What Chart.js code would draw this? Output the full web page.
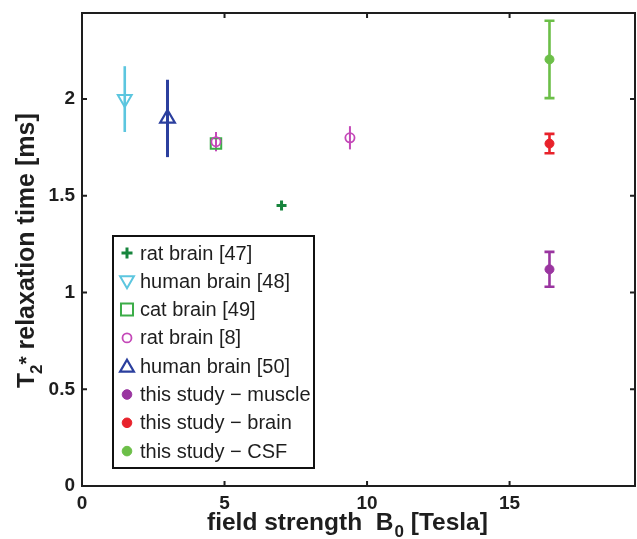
<!DOCTYPE html>
<html>
<head>
<meta charset="utf-8">
<script src="https://cdn.jsdelivr.net/npm/chart.js@4.4.1/dist/chart.umd.min.js"></script>
<style>
html,body{margin:0;padding:0;background:#fff;}
#wrap{width:637px;height:539px;position:relative;}
</style>
</head>
<body>
<div id="wrap"><canvas id="c" width="637" height="539"></canvas></div>
<script>
// ---- data ----
const seriesLabels = ['rat brain [47]','human brain [48]','cat brain [49]','rat brain [8]','human brain [50]','this study \u2212 muscle','this study \u2212 brain','this study \u2212 CSF'];
const b_rat47 = [7.0],   t_rat47 = [1.45],  e_rat47 = [0];
const b_human48 = [1.5], t_human48 = [2.0], e_human48 = [0.17];
const b_cat49 = [4.7],   t_cat49 = [1.77],  e_cat49 = [0];
const b_rat8 = [4.7, 9.4], t_rat8 = [1.78, 1.80], e_rat8 = [0.05, 0.06];
const b_human50 = [3.0], t_human50 = [1.9], e_human50 = [0.2];
const b_muscle = [16.4], t_muscle = [1.12], e_muscle = [0.09];
const b_brain = [16.4],  t_brain = [1.77],  e_brain = [0.05];
const b_csf = [16.4],    t_csf = [2.205],   e_csf = [0.2];
const xTickValues = [0, 5, 10, 15];
const yTickValues = [0, 0.5, 1, 1.5, 2];
const xRange = [0, 19.4];
const yRange = [0, 2.445];

const FONT = "'Liberation Sans', Arial, Helvetica, sans-serif";
Chart.defaults.font.family = FONT;

function pts(bs, ts){ return bs.map((b,i)=>({x:b, y:ts[i]})); }

const styles = [
  {style:'cross',    color:'#17853d', r:5,   bw:3,   fill:false, errW:2,   cap:0, legR:5.5},
  {style:'triangle', color:'#5cc6df', r:8,   bw:2,   fill:false, errW:2.6, cap:0, rot:180, legR:8},
  {style:'rect',     color:'#3cad48', r:7.4, bw:2,   fill:false, errW:2,   cap:0, legR:8.5},
  {style:'circle',   color:'#c448b8', r:4.6, bw:1.8, fill:false, errW:2,   cap:0, legR:4.5},
  {style:'triangle', color:'#2b3f9e', r:8.5, bw:2.2, fill:false, errW:3,   cap:0, legR:8},
  {style:'circle',   color:'#9a35a0', r:4.5, bw:1,   fill:true,  errW:2.6, cap:5, legR:4.8},
  {style:'circle',   color:'#e8222b', r:4.5, bw:1,   fill:true,  errW:2.6, cap:5, legR:4.8},
  {style:'circle',   color:'#6cbf48', r:4.5, bw:1,   fill:true,  errW:2.6, cap:5, legR:4.8}
];
const dataSets = [
  [b_rat47, t_rat47, e_rat47],
  [b_human48, t_human48, e_human48],
  [b_cat49, t_cat49, e_cat49],
  [b_rat8, t_rat8, e_rat8],
  [b_human50, t_human50, e_human50],
  [b_muscle, t_muscle, e_muscle],
  [b_brain, t_brain, e_brain],
  [b_csf, t_csf, e_csf]
];

const datasets = dataSets.map((d,i)=>{
  const s = styles[i];
  return {
    label: seriesLabels[i],
    data: pts(d[0], d[1]),
    errs: d[2],
    errW: s.errW,
    cap: s.cap,
    showLine: false,
    pointStyle: s.style,
    pointRadius: s.r,
    pointHoverRadius: s.r,
    pointBorderWidth: s.bw,
    pointRotation: s.rot || 0,
    borderColor: s.color,
    backgroundColor: s.fill ? s.color : 'rgba(0,0,0,0)',
    order: -i
  };
});

const frame = {
  id: 'frame',
  beforeDatasetsDraw(chart){
    const ctx = chart.ctx, xs = chart.scales.x, ys = chart.scales.y;
    chart.data.datasets.forEach(ds=>{
      ctx.save();
      ctx.strokeStyle = ds.borderColor;
      ctx.lineWidth = ds.errW;
      ds.data.forEach((p,i)=>{
        const e = ds.errs[i];
        if(!e) return;
        const px = xs.getPixelForValue(p.x);
        const y1 = ys.getPixelForValue(p.y + e);
        const y2 = ys.getPixelForValue(p.y - e);
        ctx.beginPath();
        ctx.moveTo(px, y1); ctx.lineTo(px, y2);
        if(ds.cap){
          ctx.moveTo(px-ds.cap, y1); ctx.lineTo(px+ds.cap, y1);
          ctx.moveTo(px-ds.cap, y2); ctx.lineTo(px+ds.cap, y2);
        }
        ctx.stroke();
      });
      ctx.restore();
    });
  },
  afterDraw(chart){
    const ctx = chart.ctx, xs = chart.scales.x, ys = chart.scales.y;
    const a = chart.chartArea;
    // box
    ctx.save();
    ctx.strokeStyle = '#1e1e1e';
    ctx.lineWidth = 2;
    ctx.strokeRect(a.left, a.top, a.right - a.left, a.bottom - a.top);
    // inward ticks
    const tl = 5;
    ctx.beginPath();
    xTickValues.forEach(v=>{
      const px = xs.getPixelForValue(v);
      ctx.moveTo(px, a.bottom); ctx.lineTo(px, a.bottom - tl);
      ctx.moveTo(px, a.top); ctx.lineTo(px, a.top + tl);
    });
    yTickValues.forEach(v=>{
      const py = ys.getPixelForValue(v);
      ctx.moveTo(a.left, py); ctx.lineTo(a.left + tl, py);
      ctx.moveTo(a.right, py); ctx.lineTo(a.right - tl, py);
    });
    ctx.stroke();
    ctx.restore();

    // axis titles
    ctx.save();
    ctx.fillStyle = '#1e1e1e';
    ctx.textBaseline = 'alphabetic';
    ctx.textAlign = 'left';
    let x = 207, yb = 530;
    const big = 'bold 24.5px ' + FONT, small = 'bold 17px ' + FONT;
    ctx.font = big; ctx.fillText('field strength  B', x, yb); x += ctx.measureText('field strength  B').width;
    ctx.font = small; ctx.fillText('0', x + 1, yb + 7); x += ctx.measureText('0').width + 1;
    ctx.font = big; ctx.fillText(' [Tesla]', x, yb);
    ctx.translate(34, 388);
    ctx.rotate(-Math.PI/2);
    let u = 0;
    ctx.font = big; ctx.fillText('T', u, 0); u += ctx.measureText('T').width - 1;
    ctx.font = small; ctx.fillText('2', u, 8); u += ctx.measureText('2').width;
    ctx.font = 'bold 21px ' + FONT; ctx.fillText('*', u, -1); u += ctx.measureText('*').width;
    ctx.font = 'bold 25px ' + FONT; ctx.fillText(' relaxation time [ms]', u, 0);
    ctx.restore();

    // legend box
    const L = 113, T = 236, R = 314, B = 468;
    ctx.save();
    ctx.fillStyle = '#ffffff';
    ctx.fillRect(L, T, R - L, B - T);
    ctx.strokeStyle = '#111';
    ctx.lineWidth = 2;
    ctx.strokeRect(L, T, R - L, B - T);
    chart.data.datasets.forEach((ds,i)=>{
      const s = styles[i];
      const cy = 253 + i * 28.3;
      ctx.save();
      ctx.strokeStyle = s.color;
      ctx.fillStyle = s.fill ? s.color : 'rgba(0,0,0,0)';
      ctx.lineWidth = s.bw;
      Chart.helpers.drawPoint(ctx, {
        pointStyle: s.style, radius: s.legR, rotation: s.rot || 0,
        borderWidth: s.bw
      }, 127, cy + (s.style === 'triangle' ? (s.rot ? -1 : 1.5) : 0));
      ctx.restore();
      ctx.font = '20px ' + FONT;
      ctx.textBaseline = 'middle';
      ctx.textAlign = 'left';
      ctx.fillStyle = '#1e1e1e';
      ctx.fillText(ds.label, 140, cy + 1);
    });
    ctx.restore();
  }
};

function zeroPad(scale){
  scale.paddingLeft = 0; scale.paddingRight = 0; scale.paddingTop = 0; scale.paddingBottom = 0;
}

new Chart(document.getElementById('c'), {
  type: 'scatter',
  data: { datasets },
  options: {
    responsive: false,
    animation: false,
    devicePixelRatio: 1,
    layout: { autoPadding: false, padding: { top: 13, right: 2, left: 0, bottom: 0 } },
    plugins: { legend: { display: false }, tooltip: { enabled: false } },
    scales: {
      x: {
        type: 'linear', min: xRange[0], max: xRange[1],
        grid: { display: false, drawTicks: false },
        border: { display: false },
        afterFit(scale){ scale.height = 53; zeroPad(scale); },
        afterBuildTicks(scale){ scale.ticks = xTickValues.map(v=>({value:v})); },
        ticks: { font: { size: 19, weight: 'bold' }, color: '#1e1e1e', padding: 6, maxRotation: 0, includeBounds: false,
                 callback: v => String(v) }
      },
      y: {
        type: 'linear', min: yRange[0], max: yRange[1],
        grid: { display: false, drawTicks: false },
        border: { display: false },
        afterFit(scale){ scale.width = 82; zeroPad(scale); },
        afterBuildTicks(scale){ scale.ticks = yTickValues.map(v=>({value:v})); },
        ticks: { font: { size: 19, weight: 'bold' }, color: '#1e1e1e', padding: 7, includeBounds: false,
                 callback: v => String(v) }
      }
    }
  },
  plugins: [frame]
});
</script>
</body>
</html>
